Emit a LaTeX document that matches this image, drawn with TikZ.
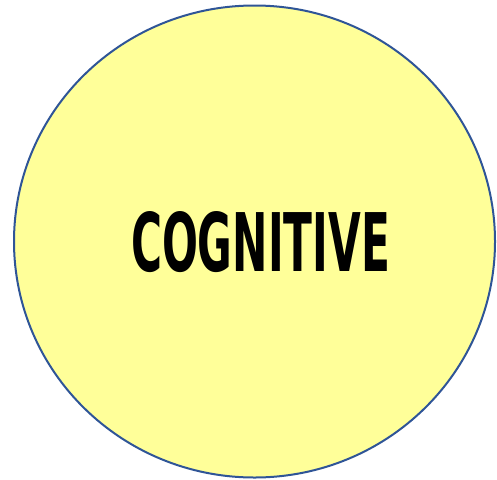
\documentclass[tikz,border=0pt]{standalone}
\usepackage{fontspec}
\setmainfont{DejaVu Sans}
\usepackage{graphicx}
\definecolor{fillyellow}{HTML}{FFFF99}
\definecolor{edgeblue}{HTML}{2F5597}
\begin{document}
\begin{tikzpicture}[x=1pt,y=-1pt,
  blob/.style={draw=edgeblue,fill=fillyellow,line width=2pt}]
\useasboundingbox (0,0) rectangle (497,479);
\path[blob] (254.5,241.5) ellipse [x radius=240.5, y radius=236];
\node[inner sep=0pt] (label) at (260.5,242.5) {\resizebox{259pt}{60pt}{\bfseries COGNITIVE}};
\end{tikzpicture}
\end{document}
